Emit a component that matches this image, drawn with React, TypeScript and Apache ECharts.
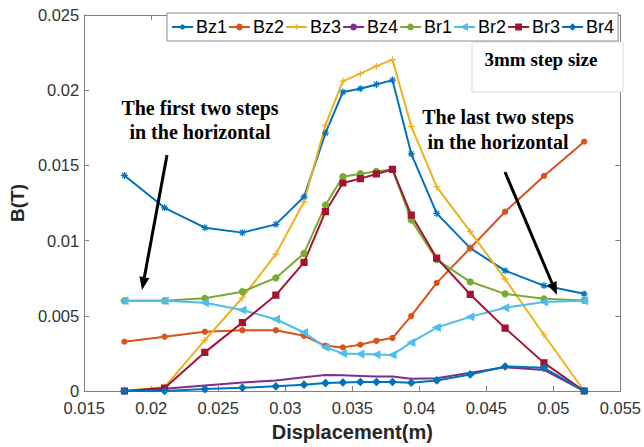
import React, { useEffect, useRef } from "react";
import * as echarts from "echarts";

const xValues = [0.018, 0.021, 0.024, 0.0268, 0.0293, 0.0314, 0.033, 0.0343, 0.0356, 0.0368, 0.038, 0.0394, 0.0413, 0.0438, 0.0464, 0.0493, 0.0523];

const bz1 = [0.01433, 0.01218, 0.01086, 0.01053, 0.01108, 0.01291, 0.01715, 0.01988, 0.0201, 0.02038, 0.02067, 0.01577, 0.01181, 0.0095, 0.008, 0.00701, 0.00646];
const bz2 = [0.00328, 0.00361, 0.00394, 0.00404, 0.00404, 0.00367, 0.00301, 0.0029, 0.00308, 0.00334, 0.00352, 0.00499, 0.00719, 0.0095, 0.01192, 0.0143, 0.01658];
const bz3 = [0, 0.00026, 0.00338, 0.0062, 0.0091, 0.01258, 0.01768, 0.0206, 0.0211, 0.0216, 0.02203, 0.0176, 0.01357, 0.0106, 0.00745, 0.00374, 0];
const bz4 = [0, 0.00015, 0.00037, 0.00057, 0.0007, 0.00092, 0.00106, 0.00104, 0.001, 0.00096, 0.00096, 0.00081, 0.00085, 0.00122, 0.00158, 0.0014, 0];
const br1 = [0.006, 0.006, 0.00616, 0.0066, 0.00752, 0.00915, 0.01236, 0.01425, 0.01445, 0.0146, 0.01473, 0.01137, 0.00873, 0.00726, 0.00646, 0.00613, 0.00602];
const br2 = [0.006, 0.006, 0.00587, 0.00539, 0.00477, 0.00389, 0.0029, 0.0025, 0.00246, 0.00242, 0.0024, 0.00323, 0.00422, 0.00493, 0.00554, 0.00592, 0.006];
const br3 = [0, 0.0002, 0.00257, 0.00455, 0.00638, 0.00855, 0.01192, 0.01383, 0.01412, 0.01443, 0.01473, 0.0117, 0.00884, 0.00642, 0.00418, 0.00187, 0];
const br4 = [0, 0, 0.00013, 0.00022, 0.00031, 0.00042, 0.00053, 0.00057, 0.0006, 0.0006, 0.0006, 0.00055, 0.0007, 0.0011, 0.00163, 0.00154, 0];

const seriesNames = ["Bz1", "Bz2", "Bz3", "Bz4", "Br1", "Br2", "Br3", "Br4"];
const seriesValues = [bz1, bz2, bz3, bz4, br1, br2, br3, br4];
const seriesColors = ["#0072BD", "#D95319", "#EDB120", "#7E2F8E", "#77AC30", "#4DBEEE", "#A2142F", "#0072BD"];

const ASTERISK = "path://M0,5L10,5M5,0L5,10M1.5,1.5L8.5,8.5M8.5,1.5L1.5,8.5";
const PLUS = "path://M0,5L10,5M5,0L5,10";
const seriesSymbols = [ASTERISK, "circle", PLUS, "none", "circle", "triangle", "rect", "diamond"];
const seriesSymbolSizes = [7, 5, 7, 0, 6, 7, 6, 7];
const seriesSymbolRotate = [0, 0, 0, 0, 0, 90, 0, 0];

function arrow(x1: number, y1: number, x2: number, y2: number) {
  const ang = Math.atan2(y2 - y1, x2 - x1);
  const len = 13;
  const half = 5;
  const bx = x2 - len * Math.cos(ang);
  const by = y2 - len * Math.sin(ang);
  const px = -Math.sin(ang);
  const py = Math.cos(ang);
  return [
    {
      type: "line",
      shape: { x1, y1, x2: bx, y2: by },
      style: { stroke: "#000", lineWidth: 3 },
      z: 50,
    },
    {
      type: "polygon",
      shape: {
        points: [
          [x2, y2],
          [bx + px * half, by + py * half],
          [bx - px * half, by - py * half],
        ],
      },
      style: { fill: "#000" },
      z: 50,
    },
  ];
}

export default function App() {
  const ref = useRef<HTMLDivElement>(null);
  useEffect(() => {
    if (!ref.current) return;
    const chart = echarts.init(ref.current, null, { renderer: "svg" });
    const axisColor = "#808080";
    const labelColor = "#333";
    const fmt = (v: number) => String(+v.toFixed(3));
    const series = seriesNames.map((name, i) => ({
      name,
      type: "line",
      xAxisIndex: 0,
      yAxisIndex: 0,
      data: xValues.map((x, j) => [x, seriesValues[i][j]]),
      symbol: seriesSymbols[i],
      symbolSize: seriesSymbolSizes[i],
      symbolRotate: seriesSymbolRotate[i],
      showSymbol: seriesSymbols[i] !== "none",
      lineStyle: { color: seriesColors[i], width: 2 },
      itemStyle: { color: seriesColors[i], borderColor: seriesColors[i], borderWidth: 1.2 },
      emphasis: { disabled: true },
      z: 2,
    }));
    const option: any = {
      animation: false,
      backgroundColor: "#fff",
      grid: { left: 76, right: 21, top: 15, bottom: 53, containLabel: false },
      legend: {
        data: seriesNames,
        left: 167,
        top: 13,
        orient: "horizontal",
        padding: [5, 4, 5, 4],
        itemGap: 1,
        itemWidth: 21,
        itemHeight: 6,
        backgroundColor: "#fff",
        borderColor: "#8c8c8c",
        borderWidth: 1,
        textStyle: { fontFamily: "Liberation Sans", fontSize: 18, color: "#000", padding: [0, 0, 0, -2] },
        z: 10,
      },
      xAxis: [
        {
          type: "value",
          min: 0.015,
          max: 0.055,
          interval: 0.005,
          name: "Displacement(m)",
          nameLocation: "middle",
          nameGap: 31,
          nameTextStyle: { fontFamily: "Liberation Sans", fontSize: 20, fontWeight: "bold", color: "#262626" },
          axisLine: { onZero: false, lineStyle: { color: axisColor, width: 1 } },
          axisTick: { inside: true, length: 5, lineStyle: { color: axisColor } },
          axisLabel: { formatter: fmt, margin: 8, fontFamily: "Liberation Sans", fontSize: 16.5, color: labelColor },
          splitLine: { show: false },
        },
        {
          type: "value",
          position: "top",
          min: 0.015,
          max: 0.055,
          interval: 0.005,
          axisLine: { onZero: false, lineStyle: { color: axisColor, width: 1 } },
          axisTick: { inside: true, length: 5, lineStyle: { color: axisColor } },
          axisLabel: { show: false },
          splitLine: { show: false },
        },
      ],
      yAxis: [
        {
          type: "value",
          min: 0,
          max: 0.025,
          interval: 0.005,
          name: "B(T)",
          nameLocation: "middle",
          nameGap: 48,
          nameTextStyle: { fontFamily: "Liberation Sans", fontSize: 19, fontWeight: "bold", color: "#262626" },
          axisLine: { show: true, onZero: false, lineStyle: { color: axisColor, width: 1 } },
          axisTick: { show: true, inside: true, length: 5, lineStyle: { color: axisColor } },
          axisLabel: { formatter: fmt, margin: 5, fontFamily: "Liberation Sans", fontSize: 16.5, color: labelColor },
          splitLine: { show: false },
        },
        {
          type: "value",
          position: "right",
          min: 0,
          max: 0.025,
          interval: 0.005,
          axisLine: { show: true, onZero: false, lineStyle: { color: axisColor, width: 1 } },
          axisTick: { show: true, inside: true, length: 5, lineStyle: { color: axisColor } },
          axisLabel: { show: false },
          splitLine: { show: false },
        },
      ],
      graphic: [
        {
          type: "rect",
          shape: { x: 472, y: 42, width: 151, height: 50 },
          style: { fill: "#fff", stroke: "#d9d9d9", lineWidth: 1 },
          z: 5,
        },
        {
          type: "text",
          x: 541,
          y: 59,
          style: {
            text: "3mm step size",
            font: 'bold 19px "Liberation Serif"',
            fill: "#000",
            align: "center",
            verticalAlign: "middle",
          },
          z: 6,
        },
        {
          type: "text",
          x: 200,
          y: 120,
          style: {
            text: "The first two steps\nin the horizontal",
            font: 'bold 20px "Liberation Serif"',
            lineHeight: 24,
            fill: "#000",
            align: "center",
            verticalAlign: "middle",
          },
          z: 6,
        },
        {
          type: "text",
          x: 498,
          y: 129,
          style: {
            text: "The last two steps\nin the horizontal",
            font: 'bold 20px "Liberation Serif"',
            lineHeight: 25,
            fill: "#000",
            align: "center",
            verticalAlign: "middle",
          },
          z: 6,
        },
        ...arrow(167, 155, 142, 290),
        ...arrow(505, 172, 557, 295),
      ],
      series,
    };
    chart.setOption(option);
    return () => chart.dispose();
  }, []);
  return (
    <div
      ref={ref}
      style={{ position: "fixed", left: 0, top: 0, width: 644, height: 447, background: "#fff" }}
    />
  );
}
